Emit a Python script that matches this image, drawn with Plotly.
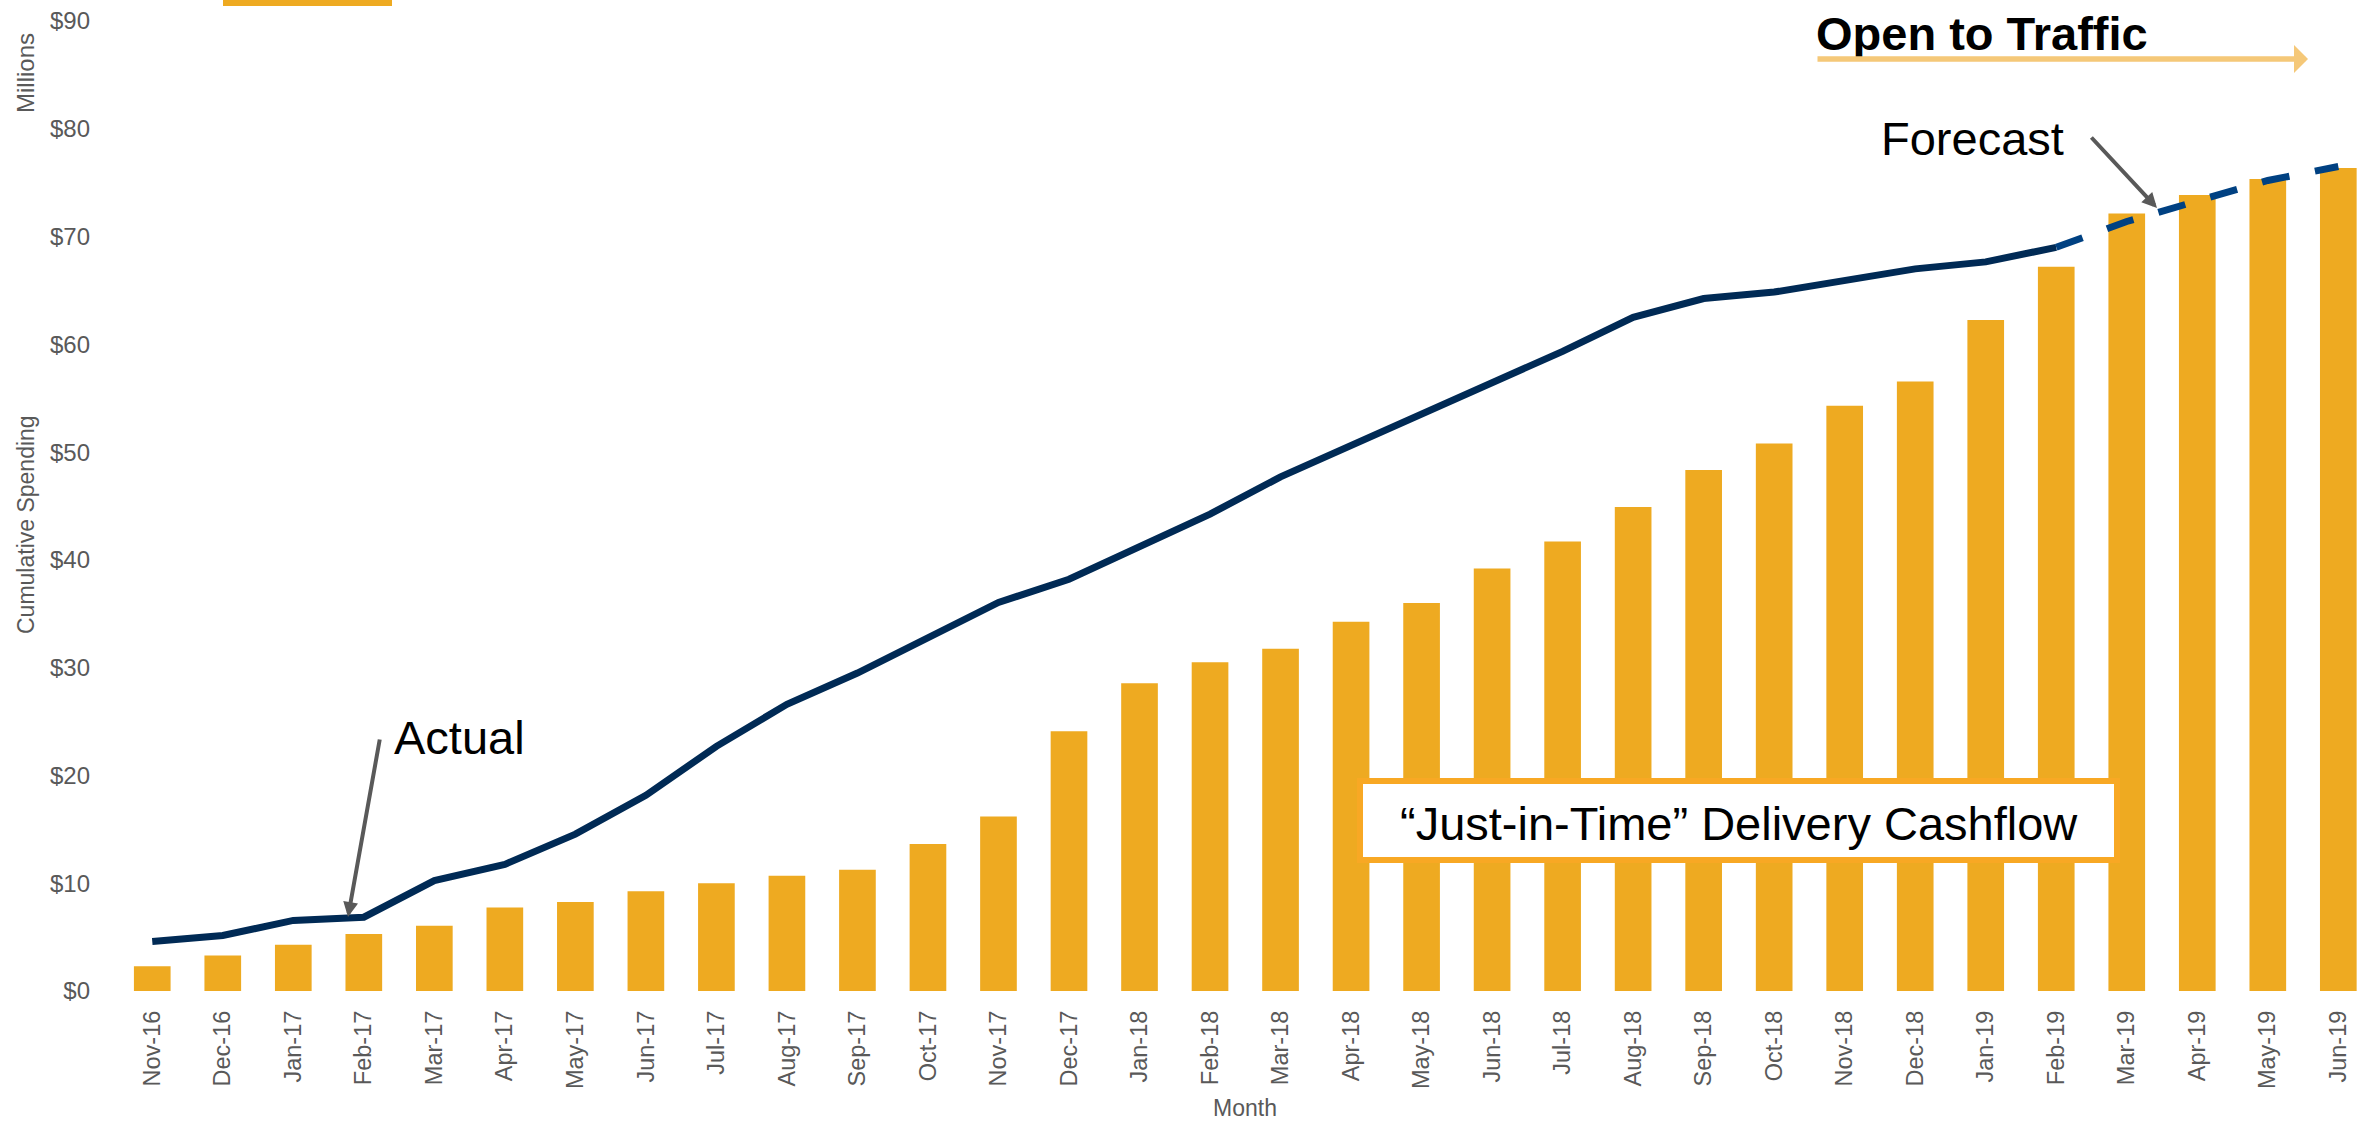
import plotly.graph_objects as go

# ---------------- data ----------------
months = ["Nov-16", "Dec-16", "Jan-17", "Feb-17", "Mar-17", "Apr-17", "May-17", "Jun-17",
          "Jul-17", "Aug-17", "Sep-17", "Oct-17", "Nov-17", "Dec-17", "Jan-18", "Feb-18",
          "Mar-18", "Apr-18", "May-18", "Jun-18", "Jul-18", "Aug-18", "Sep-18", "Oct-18",
          "Nov-18", "Dec-18", "Jan-19", "Feb-19", "Mar-19", "Apr-19", "May-19", "Jun-19"]

jit_cashflow = [2.3, 3.3, 4.3, 5.3, 6.05, 7.75, 8.25, 9.25, 10.0, 10.7, 11.25, 13.65, 16.2,
                24.1, 28.55, 30.5, 31.75, 34.25, 36.0, 39.2, 41.7, 44.9, 48.35, 50.8, 54.3,
                56.55, 62.25, 67.2, 72.15, 73.85, 75.35, 76.35]

actual_spending = [4.6, 5.15, 6.55, 6.85, 10.25, 11.75, 14.55, 18.15, 22.7, 26.6, 29.5, 32.85,
                   36.05, 38.2, 41.2, 44.25, 47.7, 50.65, 53.6, 56.55, 59.35, 62.5, 64.25,
                   64.85, 65.9, 67.0, 67.65, 69.0]          # Nov-16 .. Feb-19

forecast_spending = [71.4, 73.3, 75.2, 76.5]                # Mar-19 .. Jun-19

y_ticks = [0, 10, 20, 30, 40, 50, 60, 70, 80, 90]
y_tick_labels = ["$" + str(v) for v in y_ticks]

# ---------------- style ----------------
FONT = "Liberation Sans, Arial, sans-serif"
GRAY = "#595959"
BAR = "#EEAA21"
NAVY = "#002A55"
DASHBLUE = "#004182"

# screen geometry (body margin removed by post_script below)
W, H = 2364, 1122
PL, PR, PT, PB = 117, 2363, 21, 991      # plot area in pixels


def pxx(x):
    return (x - PL) / (PR - PL)


def pxy(y):
    return (PB - y) / (PB - PT)


n_act = len(actual_spending)
forecast_x = [months[n_act - 1]] + months[n_act:]
forecast_y = [actual_spending[-1]] + forecast_spending

fig = go.Figure()
fig.add_trace(go.Bar(x=months, y=jit_cashflow, marker=dict(color=BAR, line=dict(width=0)),
                     width=0.52, showlegend=False))
fig.add_trace(go.Scatter(x=months[:n_act], y=actual_spending, mode="lines",
                         line=dict(color=NAVY, width=7), showlegend=False))
fig.add_trace(go.Scatter(x=forecast_x, y=forecast_y, mode="lines",
                         line=dict(color=DASHBLUE, width=7, dash="28px,26px"), showlegend=False))

shapes = [
    # small orange bar at the very top
    dict(type="rect", xref="paper", yref="paper", x0=pxx(223), x1=pxx(392),
         y0=pxy(6), y1=pxy(-2), fillcolor=BAR, line=dict(width=0), layer="above"),
    # Just-in-Time box
    dict(type="rect", xref="paper", yref="paper", x0=pxx(1360), x1=pxx(2117),
         y0=pxy(860), y1=pxy(781), fillcolor="white",
         line=dict(color="#F8A824", width=6), layer="above"),
]

annotations = [
    dict(xref="paper", yref="paper", x=pxx(1739), y=pxy(823),
         text="\u201cJust-in-Time\u201d Delivery Cashflow", showarrow=False,
         font=dict(family=FONT, size=47, color="black"), xanchor="center", yanchor="middle"),
    dict(xref="paper", yref="paper", x=pxx(1814), y=pxy(34), text="<b>Open to Traffic</b>",
         showarrow=False, font=dict(family=FONT, size=47, color="black"),
         xanchor="left", yanchor="middle"),
    dict(xref="paper", yref="paper", x=pxx(2308), y=pxy(59), text="", showarrow=True,
         ax=-492, ay=0, arrowhead=1, arrowsize=0.85, arrowwidth=5.5, arrowcolor="#F5C878"),
    dict(xref="paper", yref="paper", x=pxx(1972), y=pxy(138), text="Forecast",
         showarrow=False, font=dict(family=FONT, size=47, color="black"),
         xanchor="center", yanchor="middle"),
    dict(xref="paper", yref="paper", x=pxx(2157), y=pxy(208), text="", showarrow=True,
         ax=-67, ay=-72, arrowhead=2, arrowsize=0.75, arrowwidth=4, arrowcolor=GRAY),
    dict(xref="paper", yref="paper", x=pxx(459), y=pxy(737), text="Actual",
         showarrow=False, font=dict(family=FONT, size=47, color="black"),
         xanchor="center", yanchor="middle"),
    dict(xref="paper", yref="paper", x=pxx(348), y=pxy(917), text="", showarrow=True,
         ax=32, ay=-179, arrowhead=2, arrowsize=0.75, arrowwidth=4, arrowcolor=GRAY),
    # axis titles
    dict(xref="paper", yref="paper", x=pxx(25), y=pxy(73), text="Millions", textangle=-90,
         showarrow=False, font=dict(family=FONT, size=24, color=GRAY),
         xanchor="center", yanchor="middle"),
    dict(xref="paper", yref="paper", x=pxx(26), y=pxy(525), text="Cumulative Spending",
         textangle=-90, showarrow=False, font=dict(family=FONT, size=23, color=GRAY),
         xanchor="center", yanchor="middle"),
    dict(xref="paper", yref="paper", x=pxx(1245), y=pxy(1108), text="Month",
         showarrow=False, font=dict(family=FONT, size=23, color=GRAY),
         xanchor="center", yanchor="middle"),
]

fig.update_layout(
    width=W, height=H,
    margin=dict(l=PL, r=W - PR, t=PT, b=H - PB, pad=0, autoexpand=False),
    paper_bgcolor="white", plot_bgcolor="white",
    showlegend=False,
    shapes=shapes, annotations=annotations,
    font=dict(family=FONT, color=GRAY),
    xaxis=dict(type="category", categoryorder="array", categoryarray=months,
               range=[-0.5, 31.35], showgrid=False, zeroline=False, showline=False,
               ticks="", tickangle=-90, ticklabelstandoff=14, automargin=False,
               ticklabeloverflow="allow",
               tickfont=dict(family=FONT, size=23.5, color=GRAY)),
    yaxis=dict(range=[0, 90], tickmode="array", tickvals=y_ticks, ticktext=y_tick_labels,
               showgrid=False, zeroline=False, showline=False, ticks="",
               ticklabelstandoff=26, automargin=False, ticklabeloverflow="allow",
               tickfont=dict(family=FONT, size=24, color=GRAY)),
)

fig.write_html(
    "out.html",
    config={"displayModeBar": False},
    post_script="document.body.style.margin='0';document.body.style.overflow='hidden';",
)
